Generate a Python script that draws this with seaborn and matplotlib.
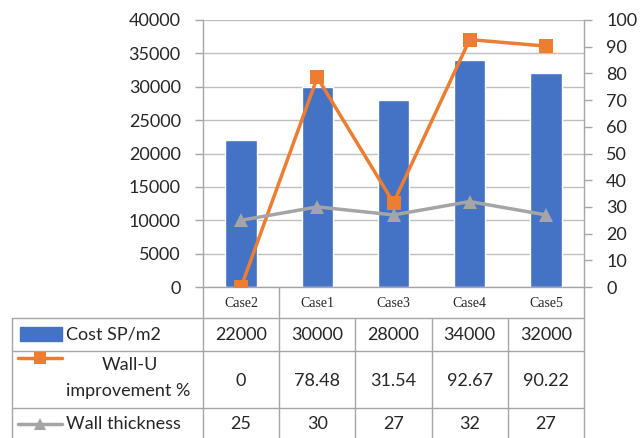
import matplotlib
matplotlib.use("Agg")
import matplotlib.pyplot as plt
import seaborn as sns
import numpy as np
import pandas as pd
from matplotlib.lines import Line2D
from matplotlib.patches import Rectangle

# ---- data ----
cases = ["Case2", "Case1", "Case3", "Case4", "Case5"]
cost = [22000, 30000, 28000, 34000, 32000]
wall_u = [0, 78.48, 31.54, 92.67, 90.22]
thickness = [25, 30, 27, 32, 27]
cost_labels = ["22000", "30000", "28000", "34000", "32000"]
wall_u_labels = ["0", "78.48", "31.54", "92.67", "90.22"]
thickness_labels = ["25", "30", "27", "32", "27"]

BLUE = "#4472C4"
ORANGE = "#ED7D31"
GRAY = "#A5A5A5"
LINE = "#A6A6A6"
SANS = "Lato"

sns.set_theme(style="white")
plt.rcParams["font.family"] = [SANS, "DejaVu Sans"]

W, H = 644, 438
fig = plt.figure(figsize=(W / 100, H / 100), dpi=100)

# plot area in pixel terms
L, R, T, B = 203, 584, 20, 287
ax = fig.add_axes([L / W, 1 - B / H, (R - L) / W, (B - T) / H])

df = pd.DataFrame({"case": cases, "cost": cost})
sns.barplot(data=df, x="case", y="cost", color=BLUE, saturation=1,
            width=0.41, ax=ax, order=cases)
ax.set_ylim(0, 40000)
ax.set_xlim(-0.5, len(cases) - 0.5)
ax.set_yticks(np.arange(0, 40001, 5000))
ax.yaxis.grid(True, color="#BFBFBF", linewidth=1)
ax.set_axisbelow(True)
ax.set_xlabel("")
ax.set_ylabel("")
ax.set_xticks(range(len(cases)))
ax.set_xticklabels(cases, fontfamily="Liberation Serif", fontsize=10)
ax.tick_params(axis="x", length=0, pad=7)
ax.tick_params(axis="y", length=6, width=1, color=LINE, labelsize=13,
               direction="out", pad=10)
for s in ["top", "right"]:
    ax.spines[s].set_visible(False)
for s in ["left", "bottom"]:
    ax.spines[s].set_color(LINE)
    ax.spines[s].set_linewidth(1)

ax2 = ax.twinx()
pos = np.arange(len(cases))
sns.lineplot(x=pos, y=wall_u, ax=ax2, color=ORANGE, linewidth=2.5,
             marker="s", markersize=10, markeredgewidth=0)
sns.lineplot(x=pos, y=thickness, ax=ax2, color=GRAY, linewidth=2.5,
             marker="^", markersize=10, markeredgewidth=0)
ax2.set_ylim(0, 100)
ax2.set_yticks(np.arange(0, 101, 10))
ax2.tick_params(axis="y", length=6, width=1, color=LINE, labelsize=13,
                direction="out", pad=10)
for s in ["top", "left", "bottom"]:
    ax2.spines[s].set_visible(False)
ax2.spines["right"].set_color(LINE)
ax2.spines["right"].set_linewidth(1)
ax2.set_ylabel("")
ax2.grid(False)

# ---- data table under the axis ----
def fx(x):
    return x / W

def fy(y):
    return 1 - y / H

def hline(y, x0, x1):
    fig.add_artist(Line2D([fx(x0), fx(x1)], [fy(y), fy(y)], color=LINE, lw=1))

def vline(x, y0, y1):
    fig.add_artist(Line2D([fx(x), fx(x)], [fy(y0), fy(y1)], color=LINE, lw=1))

band_bottom = 318
rows = [318, 351, 408, 438]
col_w = (R - L) / len(cases)
cols = [L + i * col_w for i in range(len(cases) + 1)]

# category band edges
vline(L, B, band_bottom)
vline(cols[1], B, band_bottom)
vline(R, B, band_bottom)

for y in rows[:-1]:
    hline(y, 12, R)
vline(12, rows[0], rows[-1])
for x in cols:
    vline(x, rows[0], rows[-1])

row_values = [cost_labels, wall_u_labels, thickness_labels]
row_centers = [(rows[i] + rows[i + 1]) / 2 for i in range(3)]
for vals, yc in zip(row_values, row_centers):
    for i, v in enumerate(vals):
        fig.text(fx((cols[i] + cols[i + 1]) / 2), fy(yc + 1), v,
                 ha="center", va="center", fontsize=13)

# legend keys and series names
fig.add_artist(Rectangle((fx(20), fy(341)), fx(62) - fx(20), fy(327) - fy(341),
                         color=BLUE, transform=fig.transFigure))
fig.text(fx(66), fy(335), "Cost SP/m2", ha="left", va="center", fontsize=13)

fig.add_artist(Line2D([fx(18), fx(62)], [fy(358), fy(358)], color=ORANGE, lw=2.5,
                      transform=fig.transFigure))
fig.add_artist(Line2D([fx(40)], [fy(358)], color=ORANGE, marker="s", markersize=9,
                      markeredgewidth=0, transform=fig.transFigure))
fig.text(fx(130), fy(365), "Wall-U", ha="center", va="center", fontsize=13)
fig.text(fx(66), fy(391), "improvement %", ha="left", va="center", fontsize=13)

fig.add_artist(Line2D([fx(18), fx(62)], [fy(424), fy(424)], color=GRAY, lw=2.5,
                      transform=fig.transFigure))
fig.add_artist(Line2D([fx(40)], [fy(424)], color=GRAY, marker="^", markersize=9,
                      markeredgewidth=0, transform=fig.transFigure))
fig.text(fx(66), fy(424), "Wall thickness", ha="left", va="center", fontsize=13)

fig.savefig("out.png", dpi=100, facecolor="white")
